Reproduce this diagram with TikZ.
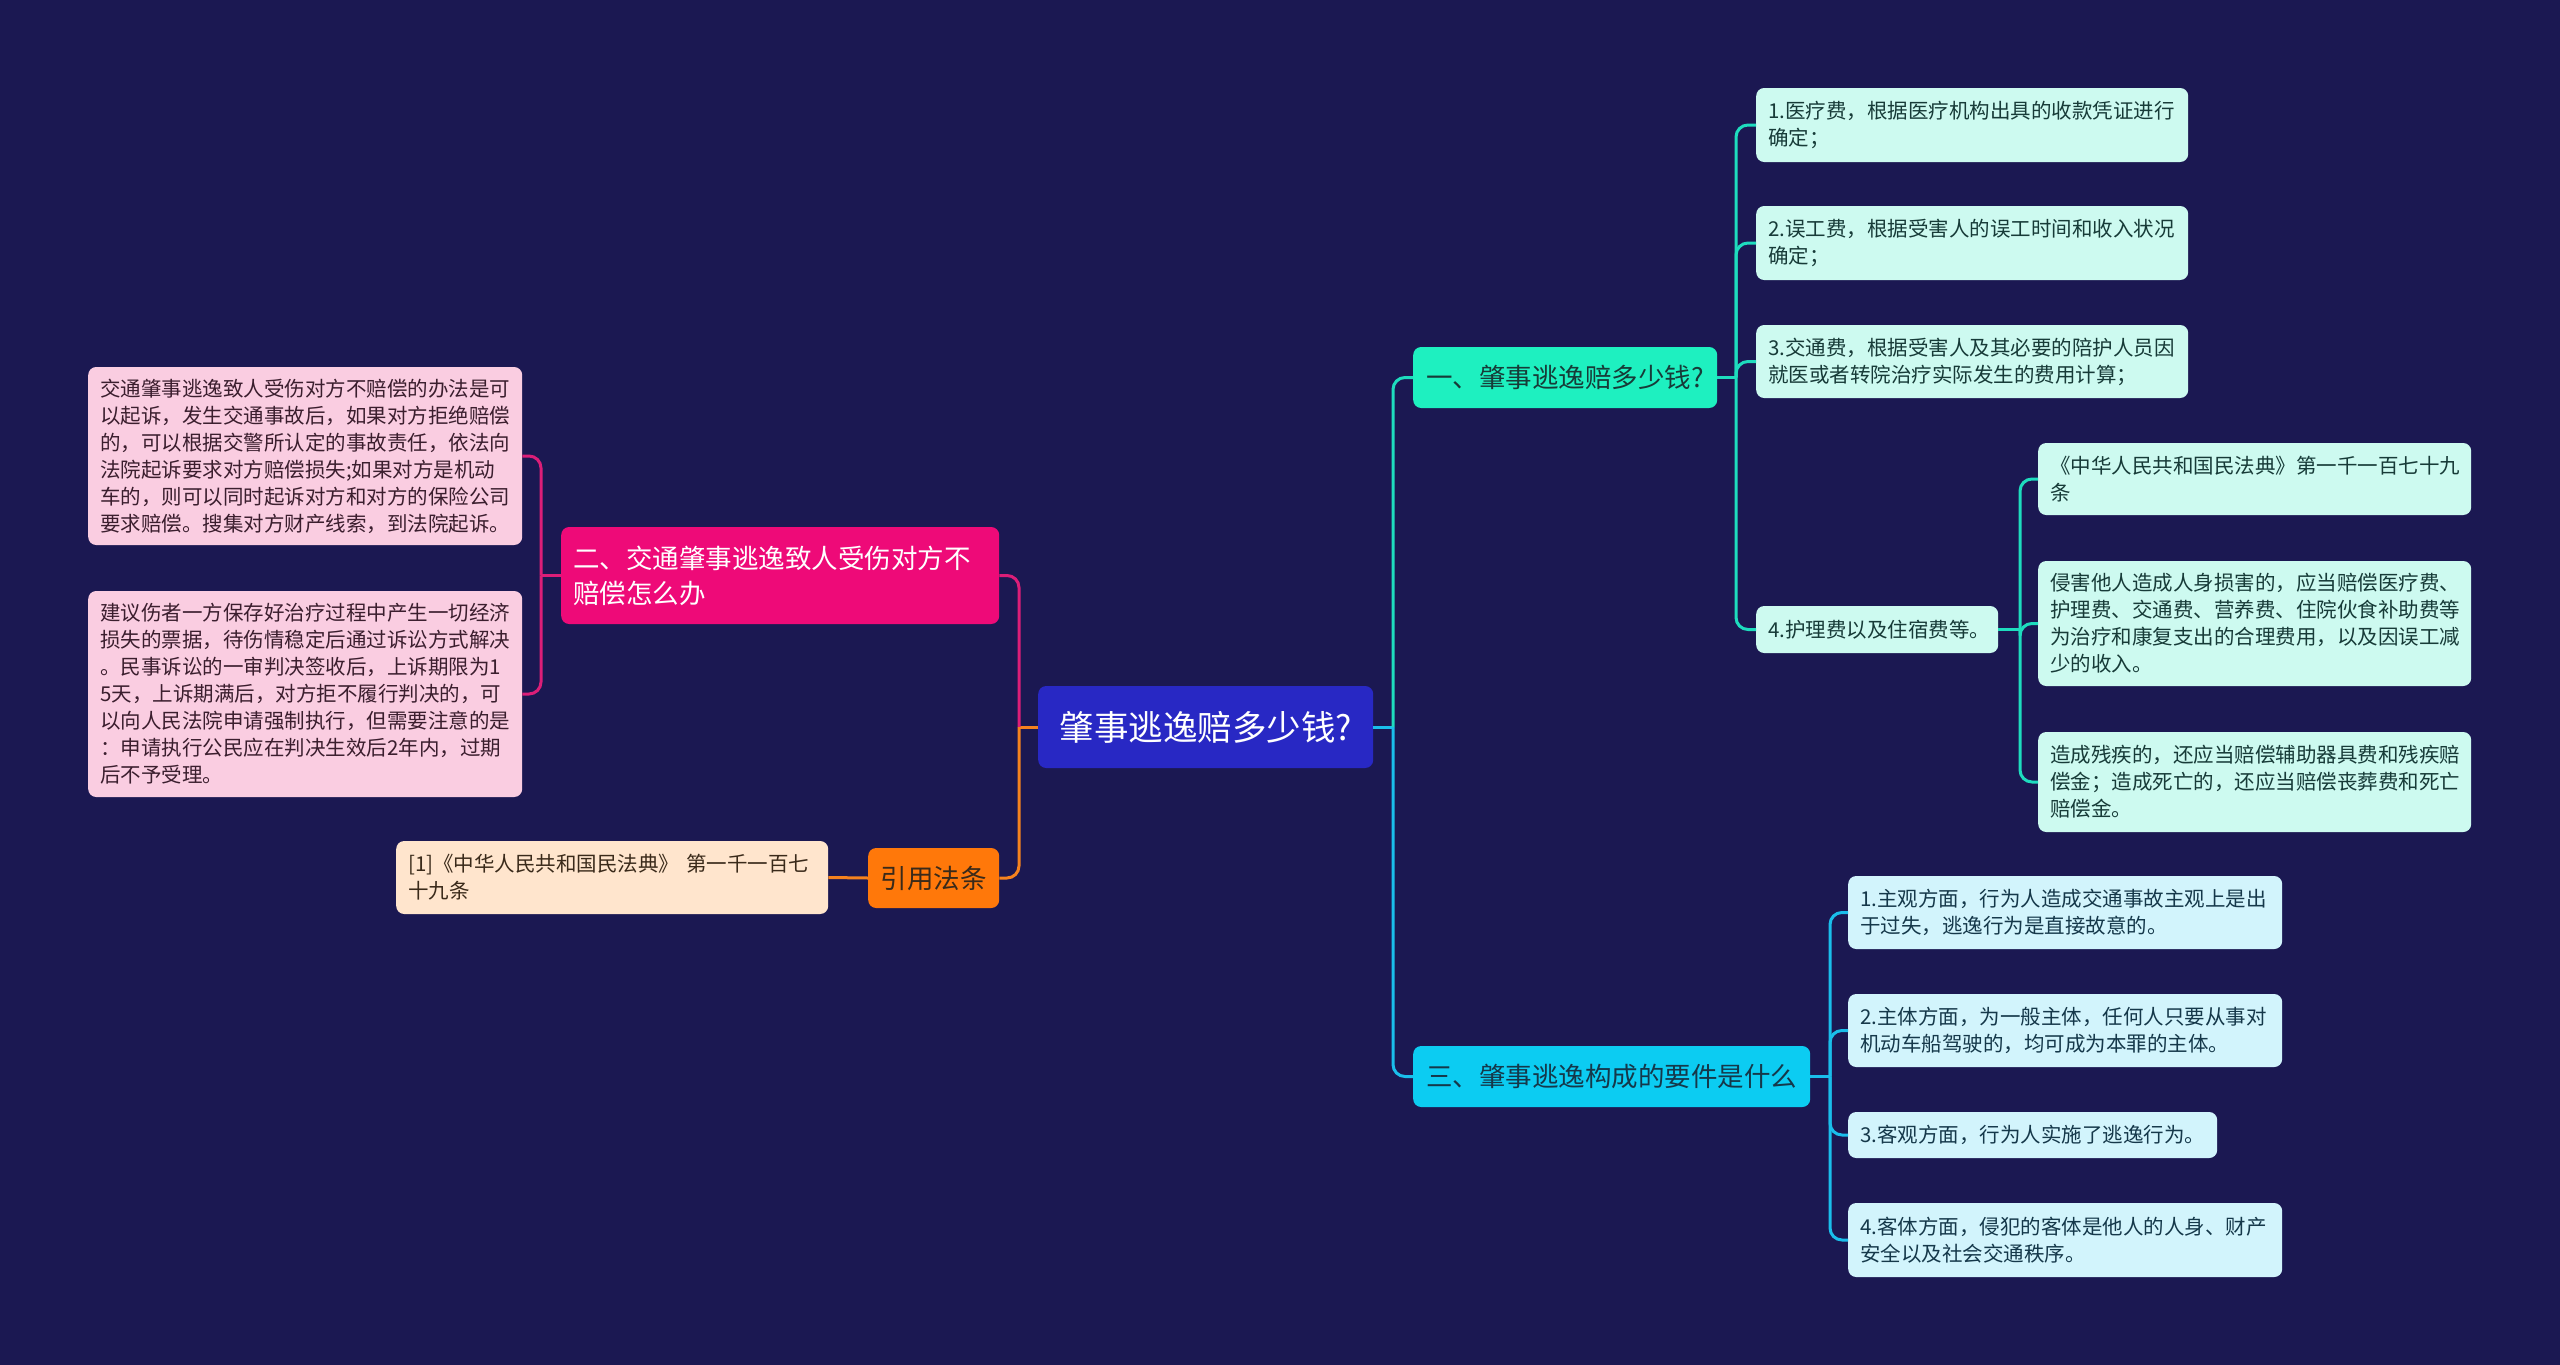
\documentclass[tikz,border=0pt]{standalone}
\usepackage{fontspec}
\setmainfont{Noto Sans CJK SC}
\definecolor{bgc}{HTML}{1B1852}
\definecolor{rootfill}{HTML}{2828C4}
\definecolor{onefill}{HTML}{1EF0C0}
\definecolor{threefill}{HTML}{0CCCF2}
\definecolor{twofill}{HTML}{EE0A78}
\definecolor{citefill}{HTML}{FF780A}
\definecolor{leafone}{HTML}{CDFAF0}
\definecolor{leafthree}{HTML}{D2F4FC}
\definecolor{leaftwo}{HTML}{FACDE1}
\definecolor{leafcite}{HTML}{FFE5CD}
\definecolor{lineone}{HTML}{1EDCBE}
\definecolor{linethree}{HTML}{1ABEEB}
\definecolor{linetwo}{HTML}{DC1E78}
\definecolor{linecite}{HTML}{F5821E}
\definecolor{txtone}{HTML}{173B38}
\definecolor{txtthree}{HTML}{15384A}
\definecolor{txttwo}{HTML}{3B1E2E}
\definecolor{txtcite}{HTML}{3A2A1A}
\tikzset{
  boxbase/.style={rounded corners=8pt, inner ysep=0pt, inner xsep=12pt, align=left},
  rootbox/.style={boxbase, fill=rootfill, text=white, align=center, font=\fontsize{34.5}{40}\selectfont},
  onebox/.style={boxbase, fill=onefill, text=txtone, align=center, font=\fontsize{26.5}{35}\selectfont},
  threebox/.style={boxbase, fill=threefill, text=txtthree, align=center, font=\fontsize{26.5}{35}\selectfont},
  twobox/.style={boxbase, fill=twofill, text=white, font=\fontsize{26.5}{35}\selectfont},
  citebox/.style={boxbase, fill=citefill, text=txtcite, align=center, font=\fontsize{26.5}{35}\selectfont},
  leafonebox/.style={boxbase, fill=leafone, text=txtone, font=\fontsize{20.5}{27}\selectfont},
  leafthreebox/.style={boxbase, fill=leafthree, text=txtthree, font=\fontsize{20.5}{27}\selectfont},
  leaftwobox/.style={boxbase, fill=leaftwo, text=txttwo, font=\fontsize{20.5}{27}\selectfont},
  leafcitebox/.style={boxbase, fill=leafcite, text=txtcite, font=\fontsize{20.5}{27}\selectfont},
  con/.style={line width=3pt, rounded corners=12pt},
}
% \bx{name}{style}{left}{top}{right}{bottom}{text}
\newcommand\bx[7]{%
  \pgfmathsetmacro\bxw{#5-#3}%
  \pgfmathsetmacro\bxh{#6-#4}%
  \pgfmathsetmacro\bxy{(#4+#6)/2}%
  \pgfmathsetmacro\bxt{#5-#3-24}%
  \node[#2, anchor=west, minimum width=\bxw pt, minimum height=\bxh pt, text width=\bxt pt] (#1) at (#3,\bxy) {#7};}
\begin{document}
\begin{tikzpicture}[x=1pt,y=-1pt]
\fill[bgc] (0,0) rectangle (2560,1365);
\useasboundingbox (0,0) rectangle (2560,1365);

% main nodes
\bx{root}{rootbox}{1038}{686}{1373}{768}{肇事逃逸赔多少钱?}
\bx{one}{onebox}{1413}{347}{1717}{408}{一、肇事逃逸赔多少钱?}
\bx{three}{threebox}{1413}{1046}{1810}{1107}{三、肇事逃逸构成的要件是什么}
\bx{two}{twobox}{561}{527}{999}{624}{二、交通肇事逃逸致人受伤对方不\\赔偿怎么办}
\bx{cite}{citebox}{868}{848}{999}{908}{引用法条}

% branch one leaves
\bx{oa}{leafonebox}{1756}{88}{2188}{162}{1.医疗费，根据医疗机构出具的收款凭证进行\\确定；}
\bx{ob}{leafonebox}{1756}{206}{2188}{280}{2.误工费，根据受害人的误工时间和收入状况\\确定；}
\bx{oc}{leafonebox}{1756}{325}{2188}{398}{3.交通费，根据受害人及其必要的陪护人员因\\就医或者转院治疗实际发生的费用计算；}
\bx{od}{leafonebox}{1756}{606}{1998}{653}{4.护理费以及住宿费等。}
\bx{sa}{leafonebox}{2038}{443}{2471}{515}{《中华人民共和国民法典》第一千一百七十九\\条}
\bx{sb}{leafonebox}{2038}{561}{2471}{686}{侵害他人造成人身损害的，应当赔偿医疗费、\\护理费、交通费、营养费、住院伙食补助费等\\为治疗和康复支出的合理费用，以及因误工减\\少的收入。}
\bx{sc}{leafonebox}{2038}{732}{2471}{832}{造成残疾的，还应当赔偿辅助器具费和残疾赔\\偿金；造成死亡的，还应当赔偿丧葬费和死亡\\赔偿金。}

% branch three leaves
\bx{ta}{leafthreebox}{1848}{876}{2282}{949}{1.主观方面，行为人造成交通事故主观上是出\\于过失，逃逸行为是直接故意的。}
\bx{tb}{leafthreebox}{1848}{994}{2282}{1067}{2.主体方面，为一般主体，任何人只要从事对\\机动车船驾驶的，均可成为本罪的主体。}
\bx{tc}{leafthreebox}{1848}{1112}{2217}{1158}{3.客观方面，行为人实施了逃逸行为。}
\bx{td}{leafthreebox}{1848}{1203}{2282}{1277}{4.客体方面，侵犯的客体是他人的人身、财产\\安全以及社会交通秩序。}

% branch two leaves
\bx{wa}{leaftwobox}{88}{367}{522}{545}{交通肇事逃逸致人受伤对方不赔偿的办法是可\\以起诉，发生交通事故后，如果对方拒绝赔偿\\的，可以根据交警所认定的事故责任，依法向\\法院起诉要求对方赔偿损失;如果对方是机动\\车的，则可以同时起诉对方和对方的保险公司\\要求赔偿。搜集对方财产线索，到法院起诉。}
\bx{wb}{leaftwobox}{88}{591}{522}{797}{建议伤者一方保存好治疗过程中产生一切经济\\损失的票据，待伤情稳定后通过诉讼方式解决\\。民事诉讼的一审判决签收后，上诉期限为1\\5天，上诉期满后，对方拒不履行判决的，可\\以向人民法院申请强制执行，但需要注意的是\\：申请执行公民应在判决生效后2年内，过期\\后不予受理。}

% cite leaf
\bx{ca}{leafcitebox}{396}{841}{828}{914}{[1]《中华人民共和国民法典》~第一千一百七\\十九条}

% junctions
\coordinate (jr) at (1393,727);
\coordinate (jl) at (1019,727);
\coordinate (j1) at (1736,377.5);
\coordinate (j4) at (2020,629.5);
\coordinate (j3) at (1830,1076.5);
\coordinate (j2) at (541,575.5);

% right side from root
\draw[con, linethree] (root.east) -- (jr);
\draw[con, lineone] (jr) |- (one.west);
\draw[con, linethree] (jr) |- (three.west);

% branch one
\draw[con, lineone] (one.east) -- (j1);
\draw[con, lineone] (j1) |- (oa.west);
\draw[con, lineone] (j1) |- (ob.west);
\draw[con, lineone] (j1) |- (oc.west);
\draw[con, lineone] (j1) |- (od.west);
\draw[con, lineone] (od.east) -- (j4);
\draw[con, lineone] (j4) |- (sa.west);
\draw[con, lineone] (j4) |- (sb.west);
\draw[con, lineone] (j4) |- (sc.west);

% branch three
\draw[con, linethree] (three.east) -- (j3);
\draw[con, linethree] (j3) |- (ta.west);
\draw[con, linethree] (j3) |- (tb.west);
\draw[con, linethree] (j3) |- (tc.west);
\draw[con, linethree] (j3) |- (td.west);

% left side
\draw[con, linecite] (root.west) -- (jl);
\draw[con, linetwo] (jl) |- (two.east);
\draw[con, linecite] (jl) |- (cite.east);
\draw[con, linetwo] (two.west) -- (j2);
\draw[con, linetwo] (j2) |- (wa.east);
\draw[con, linetwo] (j2) |- (wb.east);
\draw[con, linecite] (cite.west) -- (ca.east);
\end{tikzpicture}
\end{document}
